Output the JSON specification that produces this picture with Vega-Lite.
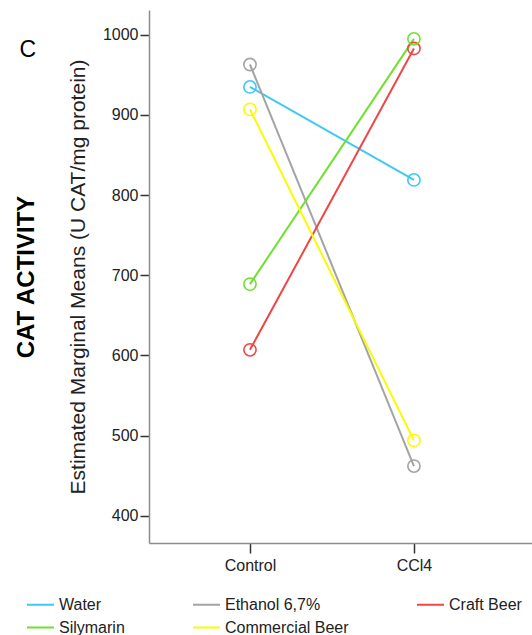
{
  "$schema": "https://vega.github.io/schema/vega-lite/v6.json",
  "width": 383,
  "height": 533,
  "autosize": "none",
  "padding": {"left": 149, "top": 10, "right": 0, "bottom": 92},
  "background": "white",
  "config": {
    "font": "Liberation Sans",
    "view": {"stroke": null},
    "axis": {
      "labelFont": "Liberation Sans",
      "labelFontSize": 16,
      "labelColor": "#222222",
      "titleFont": "Liberation Sans",
      "titleColor": "#222222",
      "titleFontWeight": "normal",
      "domainColor": "#8c8c8c",
      "domainWidth": 1.5,
      "tickColor": "#333333",
      "tickWidth": 1.5,
      "tickSize": 9,
      "grid": false
    },
    "legend": {
      "labelFont": "Liberation Sans",
      "labelFontSize": 16,
      "labelColor": "#222222"
    }
  },
  "data": {
    "values": [
      {"group": "Control", "treatment": "Water", "value": 935},
      {"group": "CCl4", "treatment": "Water", "value": 819},
      {"group": "Control", "treatment": "Ethanol 6,7%", "value": 963},
      {"group": "CCl4", "treatment": "Ethanol 6,7%", "value": 462},
      {"group": "Control", "treatment": "Craft Beer", "value": 607},
      {"group": "CCl4", "treatment": "Craft Beer", "value": 983},
      {"group": "Control", "treatment": "Silymarin", "value": 689},
      {"group": "CCl4", "treatment": "Silymarin", "value": 995},
      {"group": "Control", "treatment": "Commercial Beer", "value": 907},
      {"group": "CCl4", "treatment": "Commercial Beer", "value": 494}
    ]
  },
  "encoding": {
    "x": {
      "field": "group",
      "type": "nominal",
      "sort": ["Control", "CCl4"],
      "scale": {"type": "point", "padding": 0.668, "align": 0.461},
      "axis": {"title": null, "labelAngle": 0, "labelPadding": 4, "tickSize": 10}
    },
    "color": {
      "field": "treatment",
      "type": "nominal",
      "scale": {
        "domain": ["Water", "Ethanol 6,7%", "Craft Beer", "Silymarin", "Commercial Beer"],
        "range": ["#3ec8f7", "#a3a3a3", "#f04545", "#6fe02e", "#fafa00"]
      },
      "legend": {
        "title": null,
        "orient": "none",
        "legendX": -123,
        "legendY": 580,
        "direction": "horizontal",
        "columns": 3,
        "columnPadding": 64,
        "rowPadding": -6,
        "gridAlign": "each",
        "symbolType": "stroke",
        "symbolSize": 729,
        "symbolStrokeWidth": 2,
        "labelOffset": 4
      }
    }
  },
  "layer": [
    {
      "mark": {"type": "line", "strokeWidth": 2},
      "encoding": {
        "y": {
          "field": "value",
          "type": "quantitative",
          "scale": {"domain": [366, 1031], "nice": false, "zero": false},
          "axis": {
            "orient": "left",
            "values": [400, 500, 600, 700, 800, 900, 1000],
            "format": "d",
            "labelPadding": 2,
            "title": "Estimated Marginal Means (U CAT/mg protein)",
            "titleFontSize": 21,
            "titlePadding": 14
          }
        }
      }
    },
    {
      "mark": {"type": "point", "shape": "circle", "filled": false, "size": 150, "strokeWidth": 1.6, "opacity": 1},
      "encoding": {
        "y": {
          "field": "value",
          "type": "quantitative",
          "axis": {
            "orient": "left",
            "domain": false,
            "ticks": false,
            "labels": false,
            "title": "CAT ACTIVITY",
            "titleFontSize": 24,
            "titleFontWeight": "bold",
            "titleColor": "#000000",
            "titlePadding": 111
          }
        }
      }
    },
    {
      "mark": {"type": "point", "opacity": 0},
      "encoding": {
        "y": {
          "field": "value",
          "type": "quantitative",
          "axis": {
            "orient": "left",
            "domain": false,
            "ticks": false,
            "labels": false,
            "title": "C",
            "titleFontSize": 23,
            "titleColor": "#000000",
            "titleAngle": 0,
            "titleAlign": "left",
            "titleBaseline": "alphabetic",
            "titleX": -130,
            "titleY": 46
          }
        }
      }
    }
  ],
  "resolve": {"axis": {"y": "independent"}}
}
